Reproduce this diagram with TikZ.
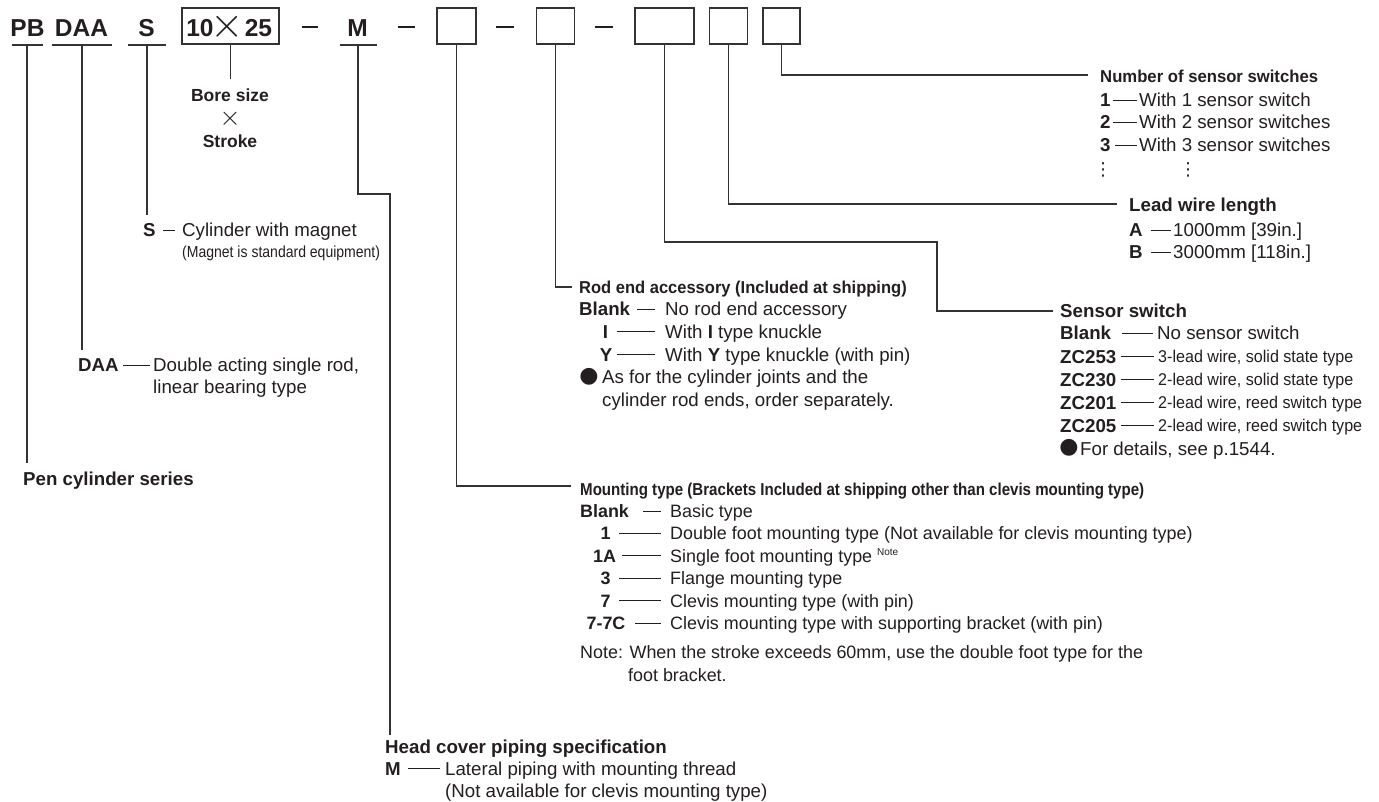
\documentclass[tikz,border=0pt]{standalone}
\usepackage{fontspec}
\setmainfont{Liberation Sans}
\newfontfamily\djv{DejaVu Sans}
\definecolor{ink}{HTML}{231F20}
\definecolor{wire}{HTML}{333333}
\newcommand{\bodyf}{\fontsize{18.7}{22}\selectfont}
\newcommand{\mntf}{\fontsize{17.9}{21}\selectfont}
\newcommand{\smf}{\fontsize{17}{20}\selectfont}
\newcommand{\cnd}[2]{\scalebox{#1}[1]{#2}}
\tikzset{
  txt/.style={anchor=base west, inner sep=0pt, text=ink, font=\bodyf},
  lbl/.style={anchor=base west, inner sep=0pt, text=ink, font=\bfseries\bodyf},
  lblc/.style={anchor=base, inner sep=0pt, text=ink, font=\bfseries\bodyf},
  mtxt/.style={anchor=base west, inner sep=0pt, text=ink, font=\mntf},
  mlbl/.style={anchor=base west, inner sep=0pt, text=ink, font=\bfseries\mntf},
  mlblc/.style={anchor=base, inner sep=0pt, text=ink, font=\bfseries\mntf},
  hd/.style={anchor=base west, inner sep=0pt, text=ink, font=\bfseries\fontsize{17.2}{20}\selectfont},
  hdw/.style={anchor=base west, inner sep=0pt, text=ink, font=\bfseries\bodyf},
  big/.style={anchor=base, inner sep=0pt, text=ink, font=\bfseries\fontsize{24.5}{28}\selectfont},
  sym/.style={anchor=center, inner sep=0pt, text=ink},
  conn/.style={draw=wire, line width=1.3pt},
  rl/.style={draw=ink, line width=0.9pt},
  tdash/.style={draw=ink, line width=2pt},
  box/.style={draw=wire, line width=1.4pt, inner sep=0pt, fill=white},
}
\begin{document}
\begin{tikzpicture}[x=1pt,y=-1pt]
\useasboundingbox[fill=white] (0,0) rectangle (1379,802);

% ---------- top code row ----------
\node[big] (pb) at (27.5,37) {PB};
\node[big] (daa) at (81.5,37) {DAA};
\node[big] (s) at (146.5,37) {S};
\node[box, minimum width=97, minimum height=36] (b0) at (230.5,26) {};
\node[big] (n10) at (200,37) {10};
\node[sym] (x0) at (227.5,27) {\raisebox{0pt}[20.8pt][0pt]{\scalebox{4.3}{$\times$}}};
\node[big] (n25) at (258.5,37) {25};
\node[big] (m) at (357.5,37) {M};
\node[box, minimum width=39, minimum height=36] (b1) at (456.5,26) {};
\node[box, minimum width=38, minimum height=36] (b2) at (555.5,26) {};
\node[box, minimum width=59, minimum height=36] (b3) at (664.5,26) {};
\node[box, minimum width=38, minimum height=36] (b4) at (728.5,26) {};
\node[box, minimum width=37, minimum height=36] (b5) at (781.5,26) {};

\draw[tdash] (302,27) -- (318,27);
\draw[tdash] (398,27) -- (415,27);
\draw[tdash] (496,27) -- (514,27);
\draw[tdash] (595,27) -- (613,27);

% underlines
\draw[conn] (12,45) -- (43,45);
\draw[conn] (52,45) -- (112,45);
\draw[conn] (128,45) -- (166,45);
\draw[conn] (340,45) -- (377,45);

\coordinate (pbu) at (27,45);
\coordinate (daau) at (82,45);
\coordinate (su) at (147,45);
\coordinate (mu) at (358,45);

% ---------- bore size x stroke ----------
\node[anchor=base, inner sep=0pt, text=ink, font=\bfseries\fontsize{17.5}{20}\selectfont] (bore) at (230,102) {Bore size};
\node[sym] (x1) at (230,119) {\raisebox{0pt}[13pt][0pt]{\scalebox{2.7}{$\times$}}};
\node[anchor=base, inner sep=0pt, text=ink, font=\bfseries\fontsize{17.5}{20}\selectfont] (stroke) at (230,148) {Stroke};
\coordinate (borec) at (230.5,79);
\draw[conn] (b0.south) -- (borec);

% ---------- number of sensor switches ----------
\coordinate (numc) at (1088,75);
\draw[conn] (b5.south) |- (numc);
\node[hd] (numh) at (1100,83) {\cnd{0.97}{Number of sensor switches}};
\node[lbl] (n1) at (1100,106.5) {1};
\draw[rl] (1113,100) -- (1137,100);
\node[txt] (n1t) at (1139,106.5) {With 1 sensor switch};
\node[lbl] (n2) at (1100,129) {2};
\draw[rl] (1113,122.5) -- (1137,122.5);
\node[txt] (n2t) at (1139,129) {With 2 sensor switches};
\node[lbl] (n3) at (1100,151.5) {3};
\draw[rl] (1115,145) -- (1137,145);
\node[txt] (n3t) at (1139,151.5) {With 3 sensor switches};
\node[sym, font=\djv\fontsize{18}{18}\selectfont] (nd1) at (1103,170) {⋮};
\node[sym, font=\djv\fontsize{18}{18}\selectfont] (nd2) at (1188,170) {⋮};

% ---------- lead wire length ----------
\coordinate (leadc) at (1117,204);
\draw[conn] (b4.south) |- (leadc);
\node[hdw] (leadh) at (1129,211.5) {Lead wire length};
\node[lbl] (la) at (1129,236.5) {A};
\draw[rl] (1151,230) -- (1171,230);
\node[txt] (lat) at (1173,236.5) {1000mm [39in.]};
\node[lbl] (lb) at (1129,258.5) {B};
\draw[rl] (1151,252) -- (1171,252);
\node[txt] (lbt) at (1173,258.5) {3000mm [118in.]};

% ---------- sensor switch ----------
\coordinate (senk) at (937,242);
\coordinate (senc) at (1053,311);
\draw[conn] (b3.south) |- (senk) |- (senc);
\node[hdw] (senh) at (1060,317.5) {Sensor switch};
\node[lbl] (s0) at (1060,340) {Blank};
\draw[rl] (1122,333.3) -- (1153,333.3);
\node[txt] (s0t) at (1157,340) {No sensor switch};
\node[lbl] (s1) at (1060,363) {ZC253};
\draw[rl] (1121,356.3) -- (1154,356.3);
\node[txt, font=\smf] (s1t) at (1158,362.5) {\cnd{0.947}{3-lead wire, solid state type}};
\node[lbl] (s2) at (1060,386) {ZC230};
\draw[rl] (1121,379.3) -- (1154,379.3);
\node[txt, font=\smf] (s2t) at (1158,385.5) {\cnd{0.947}{2-lead wire, solid state type}};
\node[lbl] (s3) at (1060,409) {ZC201};
\draw[rl] (1121,402.3) -- (1154,402.3);
\node[txt, font=\smf] (s3t) at (1158,408.5) {\cnd{0.947}{2-lead wire, reed switch type}};
\node[lbl] (s4) at (1060,432) {ZC205};
\draw[rl] (1121,425.3) -- (1154,425.3);
\node[txt, font=\smf] (s4t) at (1158,431.5) {\cnd{0.947}{2-lead wire, reed switch type}};
\node[sym, font=\djv\fontsize{22}{22}\selectfont] (sdot) at (1069,448.3) {●};
\node[txt] (s5t) at (1080,455) {For details, see p.1544.};

% ---------- rod end accessory ----------
\coordinate (rodc) at (572,287);
\draw[conn] (b2.south) |- (rodc);
\node[hd] (rodh) at (579,294) {\cnd{0.96}{Rod end accessory (Included at shipping)}};
\node[lbl] (r0) at (579,316) {Blank};
\draw[rl] (637,309.3) -- (655,309.3);
\node[txt] (r0t) at (665,316) {No rod end accessory};
\node[lblc] (r1) at (605.5,338.5) {I};
\draw[rl] (617,331.8) -- (655,331.8);
\node[txt] (r1t) at (665,338.5) {With \textbf{I} type knuckle};
\node[lblc] (r2) at (606,361) {Y};
\draw[rl] (617,354.3) -- (655,354.3);
\node[txt] (r2t) at (665,361) {With \textbf{Y} type knuckle (with pin)};
\node[sym, font=\djv\fontsize{22}{22}\selectfont] (rdot) at (589,376.8) {●};
\node[txt] (r3t) at (602,383.5) {As for the cylinder joints and the};
\node[txt] (r4t) at (602,406) {cylinder rod ends, order separately.};

% ---------- mounting type ----------
\coordinate (mntc) at (571,486);
\draw[conn] (b1.south) |- (mntc);
\node[hd] (mnth) at (580,495.5) {\cnd{0.877}{Mounting type (Brackets Included at shipping other than clevis mounting type)}};
\node[mlbl] (t0) at (580,517.4) {Blank};
\draw[rl] (643,511) -- (661,511);
\node[mtxt] (t0t) at (670,517.4) {Basic type};
\node[mlblc] (t1) at (605.5,539.8) {1};
\draw[rl] (619,533.4) -- (661,533.4);
\node[mtxt] (t1t) at (670,539.8) {Double foot mounting type (Not available for clevis mounting type)};
\node[mlblc] (t2) at (604.5,562.2) {1A};
\draw[rl] (622,555.8) -- (661,555.8);
\node[mtxt] (t2t) at (670,562.2) {Single foot mounting type \raisebox{7pt}{\fontsize{10}{10}\selectfont Note}};
\node[mlblc] (t3) at (605.5,584.6) {3};
\draw[rl] (619,578.2) -- (661,578.2);
\node[mtxt] (t3t) at (670,584.6) {Flange mounting type};
\node[mlblc] (t4) at (605.5,607) {7};
\draw[rl] (619,600.6) -- (661,600.6);
\node[mtxt] (t4t) at (670,607) {Clevis mounting type (with pin)};
\node[mlblc] (t5) at (606,629.4) {7-7C};
\draw[rl] (635,623) -- (661,623);
\node[mtxt] (t5t) at (670,629.4) {Clevis mounting type with supporting bracket (with pin)};
\node[mtxt] (tn1) at (580,658.4) {Note: When the stroke exceeds 60mm, use the double foot type for the};
\node[mtxt] (tn2) at (628,681.4) {foot bracket.};

% ---------- head cover piping ----------
\coordinate (mk1) at (358,194);
\coordinate (mk2) at (390,194);
\coordinate (me) at (390,735);
\draw[conn] (mu) -- (mk1) -- (mk2) -- (me);
\node[hdw] (hch) at (385,753.5) {Head cover piping specification};
\node[lbl] (hm) at (385,775.5) {M};
\draw[rl] (408,768.8) -- (440,768.8);
\node[txt] (hmt) at (445,775.5) {Lateral piping with mounting thread};
\node[txt] (hmt2) at (445,797.5) {(Not available for clevis mounting type)};

% ---------- S ----------
\coordinate (se) at (147,215);
\draw[conn] (su) -- (se);
\node[lbl] (sl) at (143,236.7) {S};
\draw[rl] (163,230) -- (175,230);
\node[txt] (slt) at (182,236.7) {Cylinder with magnet};
\node[txt, font=\fontsize{16}{18}\selectfont] (slt2) at (182,257.6) {\cnd{0.876}{(Magnet is standard equipment)}};

% ---------- DAA ----------
\coordinate (daae) at (82,350);
\draw[conn] (daau) -- (daae);
\node[lbl] (dl) at (78,371.7) {DAA};
\draw[rl] (123,365) -- (150,365);
\node[txt] (dlt) at (153,371.7) {Double acting single rod,};
\node[txt] (dlt2) at (153,393.7) {linear bearing type};

% ---------- PB ----------
\coordinate (pbe) at (27,463);
\draw[conn] (pbu) -- (pbe);
\node[hdw] (pbl) at (23,485.7) {Pen cylinder series};
\end{tikzpicture}
\end{document}
